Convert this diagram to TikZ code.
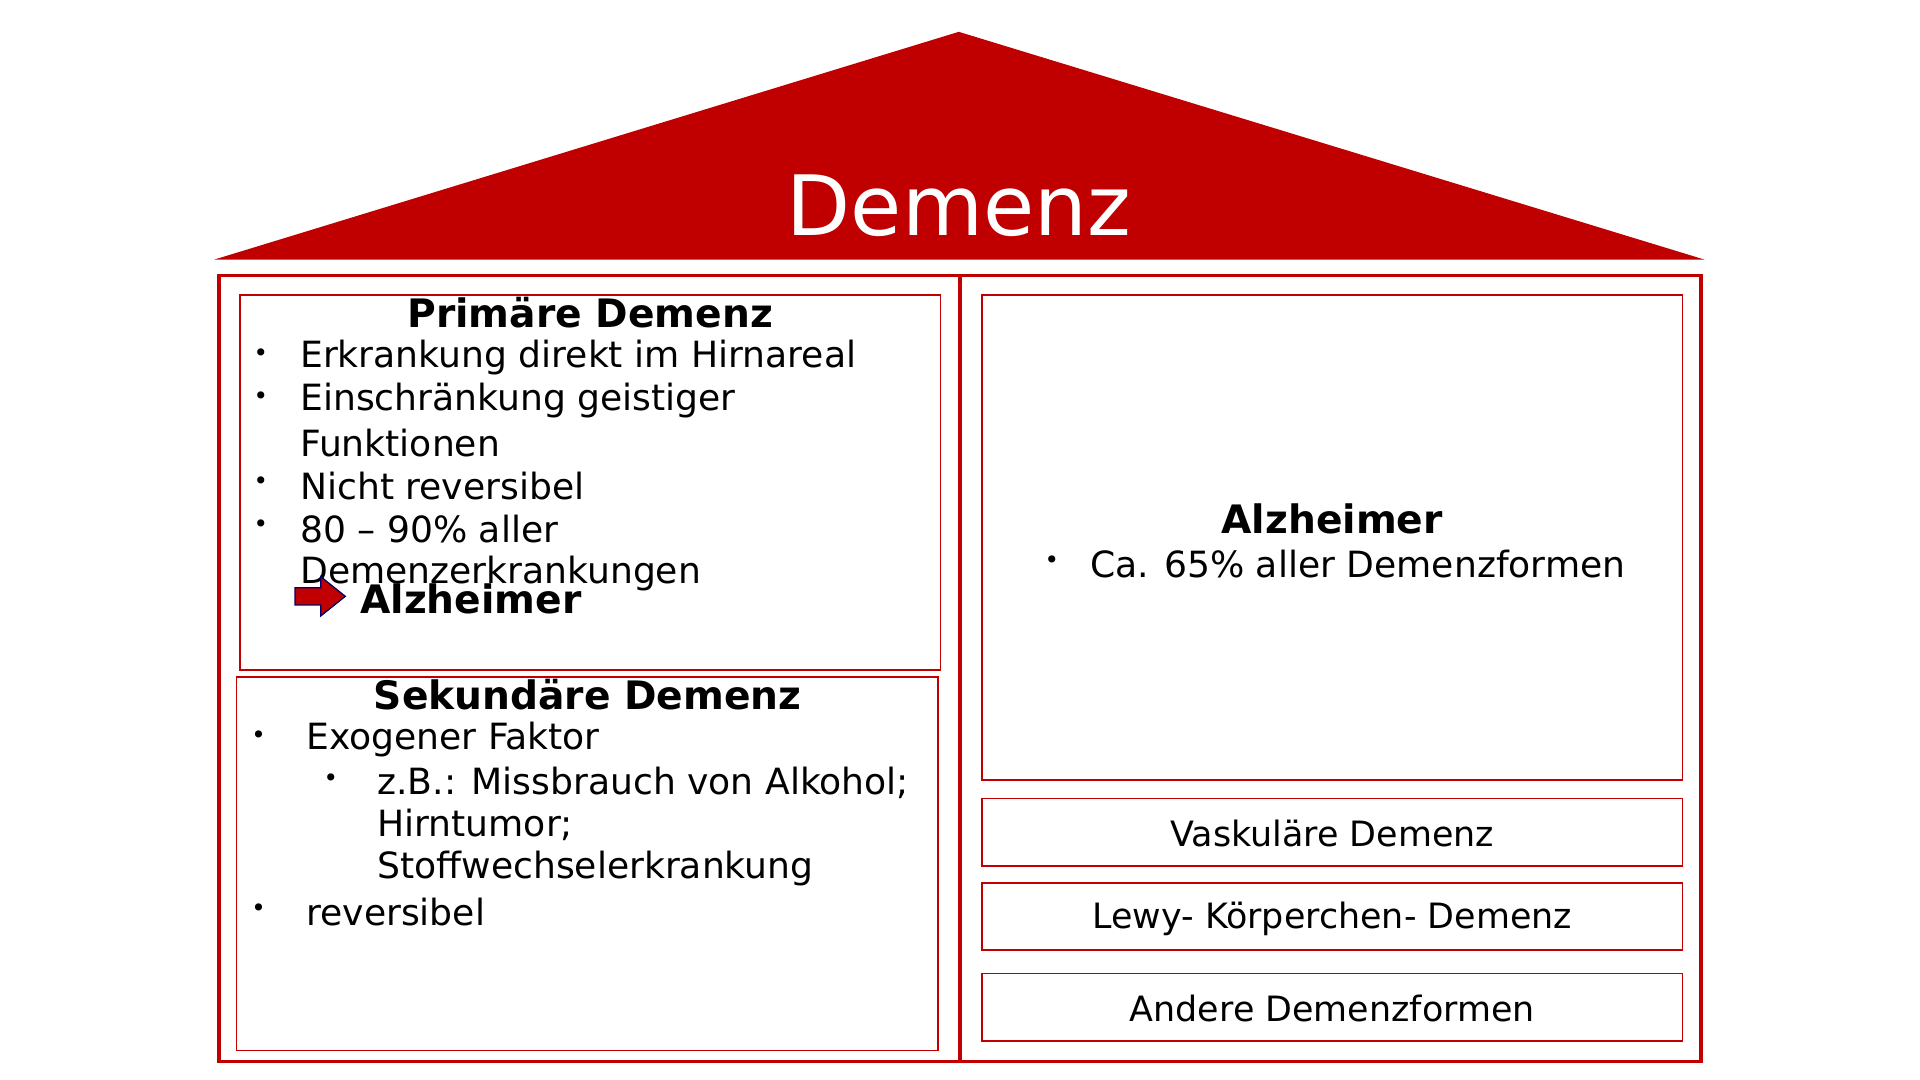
\documentclass[tikz,border=0pt]{standalone}
\usepackage{fontspec}
\setmainfont{DejaVu Sans}
\definecolor{dred}{HTML}{C00000}
\begin{document}
\begin{tikzpicture}[x=1pt,y=-1pt,
  box/.style={draw=dred,line width=1.3pt},
  txt/.style={anchor=west,inner sep=0pt,font=\fontsize{29.5}{34}\selectfont},
  bul/.style={anchor=west,inner sep=0pt,font=\fontsize{20}{24}\selectfont},
  ttl/.style={inner sep=0pt,font=\fontsize{32}{36}\selectfont\bfseries},
  lab/.style={inner sep=0pt,font=\fontsize{28.5}{32}\selectfont}]
\useasboundingbox (0,0) rectangle (1568,882);
\fill[dred] (175,212) -- (783,26) -- (1392,212) -- cycle;
\node[text=white,font=\fontsize{68}{76}\selectfont] (title) at (783,168) {Demenz};
\draw[dred,line width=3pt] (179,225) rectangle (1389,867);
\draw[dred,line width=3pt] (784,225) -- (784,867);
\draw[box] (196,241) rectangle (768,547);
\draw[box] (193,553) rectangle (766,858);
\draw[box] (802,241) rectangle (1374,637);
\draw[box] (802,652) rectangle (1374,707);
\draw[box] (802,721) rectangle (1374,776);
\draw[box] (802,795) rectangle (1374,850);
% primary
\node[ttl] (pt) at (482,255) {Primäre Demenz};
\foreach \y [count=\i] in {290,325,395,430}
  \node[bul] (pb\i) at (207,\y) {•};
\node[txt] (p1) at (245,292) {Erkrankung direkt im Hirnareal};
\node[txt] (p2) at (245,327) {Einschränkung geistiger};
\node[txt] (p3) at (245,362) {Funktionen};
\node[txt] (p4) at (245,397) {Nicht reversibel};
\node[txt] (p5) at (245,432) {80 – 90\% aller};
\node[txt] (p6) at (245,468) {Demenzerkrankungen};
\draw[fill=dred,draw=blue!40!black,line width=1pt] (241,480)--(262,480)--(262,471)--(282,487)--(262,503)--(262,494)--(241,494)--cycle;
\node[txt,font=\fontsize{32}{36}\selectfont\bfseries] (pa) at (294,489) {Alzheimer};
% secondary
\node[ttl] (st) at (480,567) {Sekundäre Demenz};
\node[bul] (sb1) at (205,602) {•};
\node[txt] (s1) at (250,604) {Exogener Faktor};
\node[bul] (sb2) at (264,637) {•};
\node[txt] (s2) at (308,639) {z.B.: Missbrauch von Alkohol;};
\node[txt] (s3) at (308,674) {Hirntumor;};
\node[txt] (s4) at (308,709) {Stoffwechselerkrankung};
\node[bul] (sb3) at (205,743) {•};
\node[txt] (s5) at (250,745) {reversibel};
% right
\node[ttl] (at) at (1088,424) {Alzheimer};
\node[bul] (ab) at (853,459) {•};
\node[txt] (a1) at (890,461) {Ca. 65\% aller Demenzformen};
\node[lab] (v) at (1088,681) {Vaskuläre Demenz};
\node[lab] (l) at (1088,750) {Lewy- Körperchen- Demenz};
\node[lab] (o) at (1088,824) {Andere Demenzformen};
\end{tikzpicture}
\end{document}
